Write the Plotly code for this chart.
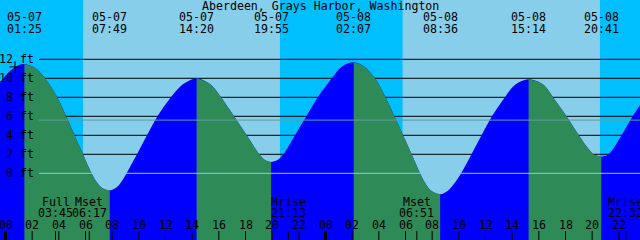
import plotly.graph_objects as go

TITLE = "Aberdeen, Grays Harbor, Washington"

# ---- data ----
tide_dates = ["05-07", "05-07", "05-07", "05-07", "05-08", "05-08", "05-08", "05-08"]
tide_times = ["01:25", "07:49", "14:20", "19:55", "02:07", "08:36", "15:14", "20:41"]
tide_ft = [11.5, -1.8, 10.0, 1.2, 11.7, -2.2, 9.9, 1.75]

# curve readings between the extremes (hours after 05-07 00:00, feet)
curve_hours = [-0.5, 0.35, 1.1,
               2.2, 2.96, 3.88, 4.55, 5.18, 5.81, 6.45, 6.85, 7.25,
               8.36, 8.78, 9.08, 9.86, 10.61, 11.40, 12.41, 13.09, 13.59,
               15.09, 15.56, 16.16, 17.14, 18.09, 19.04, 19.5,
               20.4, 20.84, 21.71, 22.56, 23.42, 24.47, 25.24,
               26.89, 27.71, 28.5, 29.17, 29.82, 30.46, 31.09, 31.5, 31.95,
               33.2, 33.7, 34.17, 34.95, 35.70, 36.49, 37.46, 38.06, 38.55,
               40.01, 40.50, 41.06, 42.07, 43.0, 43.7, 44.1, 44.38,
               45.23, 46.20, 47.03, 47.59, 48.0]
curve_ft = [9.4, 10.8, 11.45,
            11.1, 10.0, 8.0, 6.0, 4.0, 2.0, 0.0, -0.95, -1.55,
            -1.45, -0.7, 0.0, 2.0, 4.0, 6.0, 8.0, 9.1, 9.6,
            9.6, 9.1, 8.0, 6.0, 4.0, 2.0, 1.35,
            1.4, 2.0, 4.0, 6.0, 8.0, 10.0, 11.25,
            11.25, 10.0, 8.0, 6.0, 4.0, 2.0, 0.0, -1.1, -1.85,
            -1.8, -1.0, 0.0, 2.0, 4.0, 6.0, 8.0, 9.1, 9.6,
            9.6, 9.1, 8.0, 6.0, 4.0, 2.6, 2.0, 1.85,
            2.0, 4.0, 6.0, 7.2, 8.1]

sun_dates = ["05-07", "05-07", "05-08", "05-08"]
sun_times = ["05:49", "20:35", "05:47", "20:35"]
sun_kinds = ["rise", "set", "rise", "set"]

moon_names = ["Full", "Mset", "Mrise", "Mset", "Mrise"]
moon_dates = ["05-07", "05-07", "05-07", "05-08", "05-08"]
moon_times = ["03:45", "06:17", "21:13", "06:51", "22:32"]

hour_ticks = list(range(0, 49, 2))
hour_labels = [f"{h % 24:02d}" for h in hour_ticks]
midnights = [0, 24, 48]
ft_ticks = [0, 2, 4, 6, 8, 10, 12]
ft_labels = [f"{v} ft" for v in ft_ticks]
msl_ft = 5.6
mark_hours = [0.71]
mark_ft = [11.2]

# ---- style ----
DAY = "#87CEEB"
NIGHT = "#00BFFF"
FLOOD = "#0000FF"
EBB = "#2E8B57"
MSL_C = "#5F9EA0"
DATUM_C = "#87CEEB"
FONT = dict(family="DejaVu Sans Mono", size=11.6, color="black")
W, H = 640, 240
X0, X1 = -0.4125, 47.5875
Y0, Y1 = -7.021, 18.242
BOTTOM = -9


def to_hours(d, t):
    day = int(d.split("-")[1]) - 7
    hh, mm = t.split(":")
    return day * 24 + int(hh) + int(mm) / 60.0


def py(px):
    return 1 - px / H


tide_h = [to_hours(d, t) for d, t in zip(tide_dates, tide_times)]
pts = sorted(zip(tide_h + curve_hours, tide_ft + curve_ft))
all_x = [p[0] for p in pts]
all_y = [p[1] for p in pts]

fig = go.Figure()

# full tide area (flood colour)
fig.add_trace(go.Scatter(x=[all_x[0], all_x[-1]], y=[BOTTOM, BOTTOM], mode="lines",
                         line=dict(width=0), hoverinfo="skip"))
fig.add_trace(go.Scatter(x=all_x, y=all_y, mode="lines", fill="tonexty",
                         fillcolor=FLOOD, line=dict(width=0, shape="spline"),
                         hoverinfo="skip"))
# ebb segments
for i in range(len(tide_h) - 1):
    if tide_ft[i] > tide_ft[i + 1]:
        a, b = tide_h[i], tide_h[i + 1]
        sx = [x for x in all_x if a <= x <= b]
        sy = [y for x, y in pts if a <= x <= b]
        fig.add_trace(go.Scatter(x=[a, b], y=[BOTTOM, BOTTOM], mode="lines",
                                 line=dict(width=0), hoverinfo="skip"))
        fig.add_trace(go.Scatter(x=sx, y=sy, mode="lines", fill="tonexty",
                                 fillcolor=EBB, line=dict(width=0, shape="spline"),
                                 hoverinfo="skip"))

fig.add_trace(go.Scatter(x=mark_hours, y=mark_ft, mode="markers",
                         marker=dict(symbol="cross-thin", size=8,
                                     line=dict(color="black", width=1)),
                         hoverinfo="skip"))

shapes = []
# night bands
sun_h = [to_hours(d, t) for d, t in zip(sun_dates, sun_times)]
start = X0 - 1
for h, k in zip(sun_h, sun_kinds):
    if k == "rise":
        shapes.append(dict(type="rect", xref="x", yref="paper", x0=start, x1=h,
                           y0=0, y1=1, fillcolor=NIGHT, line=dict(width=0), layer="below"))
    else:
        start = h
if sun_kinds[-1] == "set":
    shapes.append(dict(type="rect", xref="x", yref="paper", x0=start, x1=X1 + 1,
                       y0=0, y1=1, fillcolor=NIGHT, line=dict(width=0), layer="below"))

GX = 39 / W
for v in ft_ticks:
    if v == 0:
        continue
    shapes.append(dict(type="line", xref="paper", yref="y", x0=GX, x1=1, y0=v, y1=v,
                       line=dict(color="black", width=1), layer="below"))
shapes.append(dict(type="line", xref="paper", yref="y", x0=GX, x1=1, y0=msl_ft, y1=msl_ft,
                   line=dict(color=MSL_C, width=1), layer="above"))
shapes.append(dict(type="line", xref="paper", yref="y", x0=GX, x1=1, y0=0, y1=0,
                   line=dict(color=DATUM_C, width=1), layer="above"))

# bottom ticks
moon_h = [to_hours(d, t) for d, t in zip(moon_dates, moon_times)]
for h in hour_ticks + moon_h:
    wdt = 3 if h in midnights else 1
    shapes.append(dict(type="line", xref="x", yref="paper", x0=h, x1=h,
                       y0=0, y1=py(231), line=dict(color="black", width=wdt), layer="above"))

ann = []
ann.append(dict(text=TITLE, xref="paper", yref="paper", x=0.5, y=py(6),
                showarrow=False, font=FONT, xanchor="center", yanchor="middle"))
for d, t, h in zip(tide_dates, tide_times, tide_h):
    ann.append(dict(text=d, xref="x", yref="paper", x=h, y=py(17), showarrow=False,
                    font=FONT, xanchor="center", yanchor="middle", borderpad=0))
    ann.append(dict(text=t, xref="x", yref="paper", x=h, y=py(29), showarrow=False,
                    font=FONT, xanchor="center", yanchor="middle", borderpad=0))
for v, lab in zip(ft_ticks, ft_labels):
    ann.append(dict(text=lab, xref="paper", yref="y", x=35 / W, y=v, showarrow=False,
                    font=FONT, xanchor="right", yanchor="middle", borderpad=0))
for n, t, h in zip(moon_names, moon_times, moon_h):
    ann.append(dict(text=n, xref="x", yref="paper", x=h, y=py(201.5), showarrow=False,
                    font=FONT, xanchor="center", yanchor="middle", borderpad=0))
    ann.append(dict(text=t, xref="x", yref="paper", x=h, y=py(213), showarrow=False,
                    font=FONT, xanchor="center", yanchor="middle", borderpad=0))
for h, lab in zip(hour_ticks, hour_labels):
    ann.append(dict(text=lab, xref="x", yref="paper", x=h, y=py(225), showarrow=False,
                    font=FONT, xanchor="center", yanchor="middle", borderpad=0))

fig.update_layout(
    width=W, height=H, margin=dict(l=0, r=0, t=0, b=0, pad=0),
    plot_bgcolor=DAY, paper_bgcolor=DAY, showlegend=False,
    xaxis=dict(range=[X0, X1], visible=False, fixedrange=True),
    yaxis=dict(range=[Y0, Y1], visible=False, fixedrange=True),
    shapes=shapes, annotations=ann,
)
fig.write_html("out.html")
